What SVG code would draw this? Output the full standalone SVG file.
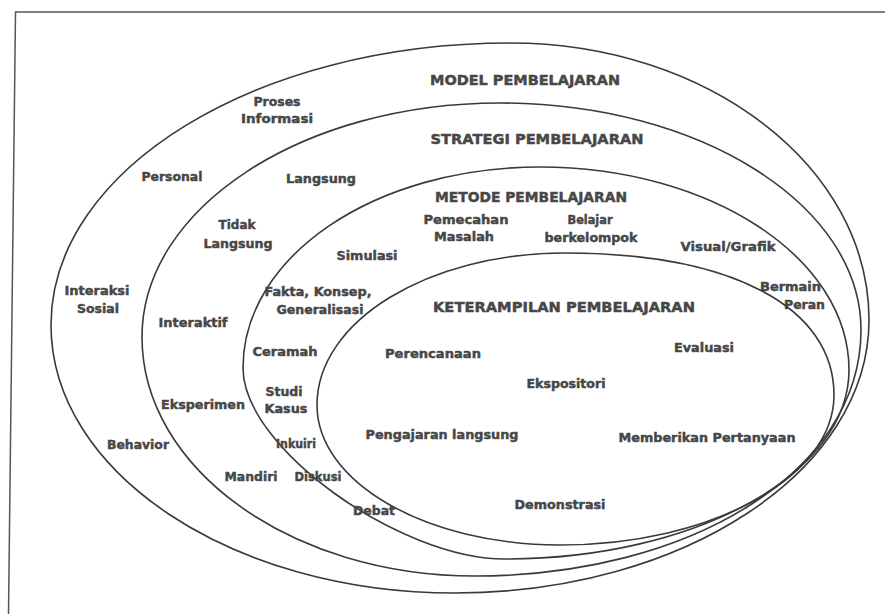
<svg xmlns="http://www.w3.org/2000/svg" width="885" height="614" viewBox="0 0 885 614">
<style>
.ring{fill:none;stroke:#3a3a3a;stroke-width:1.6}
.frame{fill:none;stroke:#555;stroke-width:1.5}
text{font-family:"DejaVu Sans","Liberation Sans",sans-serif;font-weight:bold;fill:#474747;stroke:#474747;stroke-width:0.45;font-size:13px;text-anchor:middle}
.title{font-size:14px}
.r{text-anchor:end}
</style>
<rect width="885" height="614" fill="#fff"/>
<polyline class="frame" points="885,12 15.5,12 8.5,614"/>

<g id="model">
<path class="ring" d="M51,325 C51,169.3 256.6,43 510,43 C708.2,43 869,167.1 869,320 C869,470.7 683.5,593 455,593 C232,593 51,472.9 51,325 Z"/>
<text class="title" x="525" y="85" textLength="190" lengthAdjust="spacingAndGlyphs">MODEL PEMBELAJARAN</text>
<text x="277" y="106" textLength="47" lengthAdjust="spacingAndGlyphs">Proses</text>
<text x="277" y="123" textLength="72" lengthAdjust="spacingAndGlyphs">Informasi</text>
<text x="172" y="181" textLength="61" lengthAdjust="spacingAndGlyphs">Personal</text>
<text x="97" y="295" textLength="65" lengthAdjust="spacingAndGlyphs">Interaksi</text>
<text x="98" y="313" textLength="42" lengthAdjust="spacingAndGlyphs">Sosial</text>
<text x="138" y="449" textLength="62" lengthAdjust="spacingAndGlyphs">Behavior</text>
</g>

<g id="strategi">
<path class="ring" d="M142,337 C142,207.8 302.4,103 500,103 C699.3,103 861,204.7 861,330 C861,472.7 688,576 475,576 C291.2,576 142,468.9 142,337 Z"/>
<text class="title" x="537" y="144" textLength="213" lengthAdjust="spacingAndGlyphs">STRATEGI PEMBELAJARAN</text>
<text x="321" y="183" textLength="70" lengthAdjust="spacingAndGlyphs">Langsung</text>
<text x="237" y="229" textLength="37" lengthAdjust="spacingAndGlyphs">Tidak</text>
<text x="238" y="248" textLength="69" lengthAdjust="spacingAndGlyphs">Langsung</text>
<text x="193" y="327" textLength="69" lengthAdjust="spacingAndGlyphs">Interaktif</text>
<text x="203" y="409" textLength="84" lengthAdjust="spacingAndGlyphs">Eksperimen</text>
<text x="251" y="481" textLength="53" lengthAdjust="spacingAndGlyphs">Mandiri</text>
</g>

<g id="metode">
<path class="ring" d="M243,368 C243,255.7 375.5,167 540,167 C710.6,167 849,258 849,370 C849,474.3 694.9,559 505,559 C400,559 243,448 243,368 Z"/>
<text class="title" x="531" y="202" textLength="192" lengthAdjust="spacingAndGlyphs">METODE PEMBELAJARAN</text>
<text x="466" y="224" textLength="85" lengthAdjust="spacingAndGlyphs">Pemecahan</text>
<text x="464" y="241" textLength="60" lengthAdjust="spacingAndGlyphs">Masalah</text>
<text x="590" y="224" textLength="45" lengthAdjust="spacingAndGlyphs">Belajar</text>
<text x="591" y="242" textLength="93" lengthAdjust="spacingAndGlyphs">berkelompok</text>
<text x="728" y="251" textLength="95" lengthAdjust="spacingAndGlyphs">Visual/Grafik</text>
<text class="r" x="821" y="291" textLength="61" lengthAdjust="spacingAndGlyphs">Bermain</text>
<text class="r" x="825" y="309" textLength="41" lengthAdjust="spacingAndGlyphs">Peran</text>
<text x="367" y="260" textLength="61" lengthAdjust="spacingAndGlyphs">Simulasi</text>
<text x="318" y="296" textLength="107" lengthAdjust="spacingAndGlyphs">Fakta, Konsep,</text>
<text x="320" y="314" textLength="87" lengthAdjust="spacingAndGlyphs">Generalisasi</text>
<text x="285" y="356" textLength="65" lengthAdjust="spacingAndGlyphs">Ceramah</text>
<text x="284" y="396" textLength="37" lengthAdjust="spacingAndGlyphs">Studi</text>
<text x="286" y="413" textLength="43" lengthAdjust="spacingAndGlyphs">Kasus</text>
<text x="296" y="448" textLength="40" lengthAdjust="spacingAndGlyphs">Inkuiri</text>
<text x="318" y="481" textLength="47" lengthAdjust="spacingAndGlyphs">Diskusi</text>
<text x="374" y="515" textLength="42" lengthAdjust="spacingAndGlyphs">Debat</text>
</g>

<g id="keterampilan">
<path class="ring" d="M317,405 C317,321.1 428.1,253 565,253 C731.8,253 834,307 834,395 C834,477.8 711.2,545 560,545 C425.9,545 317,482.3 317,405 Z"/>
<text class="title" x="564" y="312" textLength="262" lengthAdjust="spacingAndGlyphs">KETERAMPILAN PEMBELAJARAN</text>
<text x="433" y="358" textLength="96" lengthAdjust="spacingAndGlyphs">Perencanaan</text>
<text x="704" y="352" textLength="60" lengthAdjust="spacingAndGlyphs">Evaluasi</text>
<text x="566" y="388" textLength="79" lengthAdjust="spacingAndGlyphs">Ekspositori</text>
<text x="442" y="439" textLength="153" lengthAdjust="spacingAndGlyphs">Pengajaran langsung</text>
<text x="707" y="442" textLength="177" lengthAdjust="spacingAndGlyphs">Memberikan Pertanyaan</text>
<text x="560" y="509" textLength="91" lengthAdjust="spacingAndGlyphs">Demonstrasi</text>
</g>
</svg>
